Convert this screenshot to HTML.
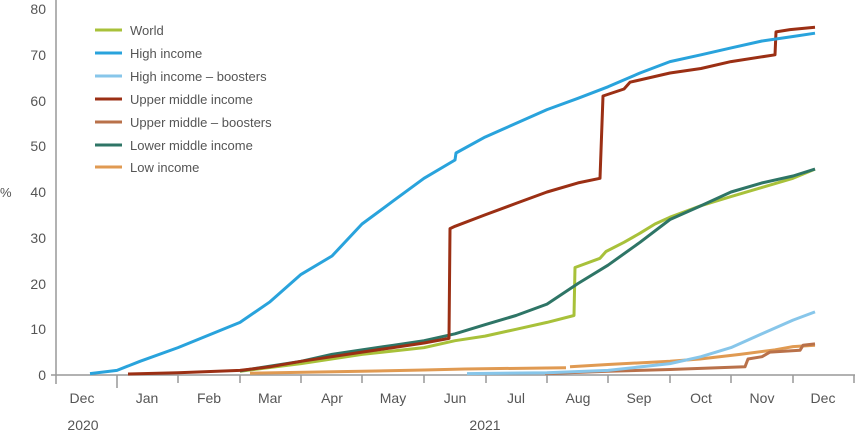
<!DOCTYPE html>
<html><head><style>body{margin:0;background:#fff}svg text{font-family:"Liberation Sans",sans-serif;fill:#555}</style></head><body>
<svg width="855" height="434" viewBox="0 0 855 434" xmlns="http://www.w3.org/2000/svg">
<g font-size="14" text-anchor="end">
<text x="46" y="380">0</text><text x="46" y="334">10</text><text x="46" y="289">20</text><text x="46" y="243">30</text><text x="46" y="197">40</text><text x="46" y="151">50</text><text x="46" y="106">60</text><text x="46" y="60">70</text><text x="46" y="14">80</text>
</g>
<text x="0" y="197" font-size="13">%</text>
<g stroke="#999" stroke-width="1.5" fill="none">
<line x1="56" y1="0" x2="56" y2="384"/>
<line x1="51" y1="375" x2="855" y2="375"/>
<line x1="117" y1="375" x2="117" y2="388"/>
<path d="M178 375v8M240 375v8M301 375v8M362 375v8M424 375v8M486 375v8M547 375v8M608 375v8M670 375v8M731 375v8M793 375v8M854 375v8"/>
</g>
<g font-size="14" text-anchor="middle">
<text x="82" y="403">Dec</text><text x="147" y="403">Jan</text><text x="209" y="403">Feb</text><text x="270" y="403">Mar</text><text x="332" y="403">Apr</text><text x="393" y="403">May</text><text x="455" y="403">Jun</text><text x="516" y="403">Jul</text><text x="578" y="403">Aug</text><text x="639" y="403">Sep</text><text x="701" y="403">Oct</text><text x="762" y="403">Nov</text><text x="823" y="403">Dec</text>
<text x="83" y="430">2020</text><text x="485" y="430">2021</text>
</g>
<g fill="none" stroke-width="3" stroke-linejoin="round">
<path stroke="#e09a52" d="M250,373.2 L362,371.3 424,370 465,369 566,367.7 M570,366.8 L608,364.5 670,361.3 700,359 740,354.4 775,349.8 793,346.6 815,345.3"/>
<polyline stroke="#b9714a" points="545,373.6 608,371.3 670,369.5 745,366.8 748,359 762,356.7 770,352.1 800,350.3 803,345.3 815,343.9"/>
<polyline stroke="#87c6ea" points="467,373.6 547,372.7 608,370.4 670,363.6 701,356.7 731,347.6 762,333.8 793,320.1 815,311.9"/>
<polyline stroke="#a8c13a" points="240,371.3 301,363.6 362,354.4 424,347.6 455,340.7 485,336.1 516,329.3 547,322.4 574,315.5 575,267.5 600,258.3 606,251.5 624,242.3 640,233.2 655,224 670,217.2 701,205.7 731,196.6 762,187.4 793,178.3 815,169.1"/>
<polyline stroke="#2e7566" points="240,370.9 301,361.3 332,354.4 362,349.8 393,345.3 424,340.7 455,333.8 485,324.7 516,315.5 547,304.1 578,283.5 608,265.2 640,242.3 670,219.5 701,205.7 731,192 762,182.9 793,176 815,169.1"/>
<polyline stroke="#9b2f14" points="128,374 178,372.7 240,370.4 270,366.8 301,361.3 332,356.7 362,352.1 393,347.6 424,343 449,338.4 450,228.6 455,226.3 485,214.9 516,203.4 547,192 578,182.9 600,178.3 603,96 624,89 630,82.2 670,73 701,68.5 731,61.6 775,54.8 776,31.9 790,29.6 815,27.3"/>
<polyline stroke="#29a3dc" points="90,373.6 117,370.4 140,361.3 178,347.6 240,322.4 270,301.8 301,274.4 332,256 362,224 393,201.1 424,178.3 455,160 456,153 485,137.1 547,109.6 578,98.3 608,86.8 640,73 670,61.6 701,54.8 731,47.9 762,41 793,36.5 815,33.2"/>
</g>
<g stroke-width="3">
<line x1="95" y1="30" x2="122" y2="30" stroke="#a8c13a"/>
<line x1="95" y1="53" x2="122" y2="53" stroke="#29a3dc"/>
<line x1="95" y1="76" x2="122" y2="76" stroke="#87c6ea"/>
<line x1="95" y1="99" x2="122" y2="99" stroke="#9b2f14"/>
<line x1="95" y1="122" x2="122" y2="122" stroke="#b9714a"/>
<line x1="95" y1="145" x2="122" y2="145" stroke="#2e7566"/>
<line x1="95" y1="167" x2="122" y2="167" stroke="#e09a52"/>
</g>
<g font-size="13">
<text x="130" y="35">World</text><text x="130" y="58">High income</text><text x="130" y="81">High income – boosters</text><text x="130" y="104">Upper middle income</text><text x="130" y="127">Upper middle – boosters</text><text x="130" y="150">Lower middle income</text><text x="130" y="172">Low income</text>
</g>
</svg>
</body></html>
